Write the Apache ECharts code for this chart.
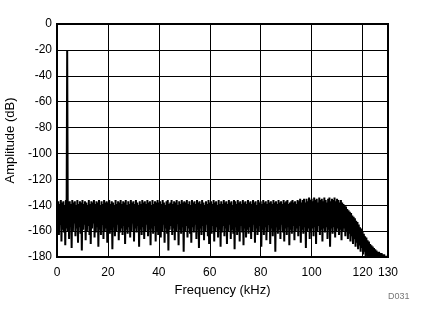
<!DOCTYPE html>
<html>
<head>
<meta charset="utf-8">
<script src="https://cdn.jsdelivr.net/npm/echarts@6/dist/echarts.min.js"></script>
<style>html,body{margin:0;padding:0;background:#fff;}#c{width:427px;height:324px;}</style>
</head>
<body>
<div id="c"></div>
<script>
// FFT bins, 0.25 kHz apart, starting at 0 kHz
var binStepKHz = 0.25;
var amplitudeDb = [
  -140,-157,-137,-163,-139,-155,-136,-168,-138,-159,-137,-161,-140,-171,-136,-158,-20,-160,-138,-166,
  -137,-156,-139,-173,-136,-160,-138,-154,-137,-164,-140,-158,-136,-169,-139,-157,-137,-162,-138,-175,
  -136,-159,-139,-155,-137,-167,-138,-160,-140,-156,-136,-163,-139,-170,-137,-158,-138,-154,-136,-165,
  -139,-161,-137,-157,-138,-172,-136,-159,-140,-163,-137,-155,-139,-166,-136,-160,-138,-158,-137,-169,
  -138,-156,-136,-162,-139,-159,-137,-174,-138,-157,-140,-164,-136,-160,-139,-155,-137,-167,-138,-161,
  -136,-158,-139,-163,-137,-156,-138,-170,-136,-159,-140,-162,-137,-157,-139,-165,-136,-160,-138,-154,
  -137,-168,-139,-158,-136,-161,-138,-156,-140,-172,-137,-159,-139,-163,-136,-157,-138,-166,-137,-160,
  -139,-155,-136,-164,-138,-159,-137,-171,-140,-158,-136,-162,-139,-156,-137,-168,-138,-160,-136,-163,
  -138,-157,-137,-165,-139,-160,-136,-155,-138,-169,-140,-158,-137,-162,-136,-175,-139,-159,-138,-156,
  -136,-163,-139,-158,-137,-167,-138,-160,-136,-154,-140,-171,-137,-159,-139,-162,-136,-157,-138,-176,
  -137,-160,-138,-156,-136,-165,-139,-158,-137,-162,-140,-169,-136,-157,-138,-161,-137,-155,-139,-166,
  -136,-159,-138,-173,-137,-158,-139,-163,-136,-156,-138,-167,-140,-160,-137,-155,-139,-164,-136,-170,
  -138,-158,-137,-162,-139,-156,-136,-168,-138,-160,-137,-157,-140,-165,-136,-159,-139,-172,-137,-161,
  -139,-156,-136,-164,-138,-158,-137,-170,-139,-160,-136,-155,-138,-166,-137,-159,-140,-162,-136,-174,
  -137,-157,-139,-163,-136,-160,-138,-168,-137,-156,-139,-161,-136,-171,-138,-158,-137,-165,-139,-159,
  -136,-162,-138,-157,-137,-166,-139,-160,-136,-155,-138,-169,-137,-158,-140,-163,-136,-160,-138,-156,
  -137,-172,-139,-159,-136,-163,-138,-157,-137,-167,-139,-160,-136,-155,-138,-170,-137,-158,-139,-164,
  -136,-160,-138,-176,-137,-157,-139,-162,-136,-159,-138,-166,-137,-155,-139,-161,-136,-168,-138,-158,
  -137,-163,-136,-157,-139,-171,-138,-159,-137,-162,-136,-156,-138,-167,-137,-160,-139,-158,-136,-164,
  -137,-156,-135,-169,-138,-159,-136,-162,-135,-157,-138,-173,-135,-160,-137,-158,-134,-166,-136,-161,
  -135,-158,-137,-164,-134,-157,-136,-170,-135,-160,-138,-156,-134,-163,-136,-159,-135,-168,-137,-158,
  -134,-161,-136,-157,-138,-166,-135,-159,-134,-172,-137,-158,-135,-162,-136,-157,-134,-165,-137,-160,
  -135,-158,-136,-163,-138,-159,-136,-167,-138,-160,-139,-158,-140,-164,-141,-160,-143,-166,-144,-162,
  -145,-168,-146,-164,-148,-170,-149,-166,-150,-172,-152,-169,-153,-174,-155,-171,-157,-176,-158,-173,
  -160,-178,-162,-176,-164,-181,-165,-179,-167,-183,-168,-182,-170,-185,-171,-183,-172,-186,-173,-184,
  -174,-186,-175,-185,-176,-187,-176,-185,-177,-186,-177,-185,-178,-187,-178,-186,-179,-186,-179,-187,
  -183
];
var xTickLabels = ['0','20','40','60','80','100','120','130'];
var yTickLabels = ['0','-20','-40','-60','-80','-100','-120','-140','-160','-180'];

var seriesData = amplitudeDb.map(function (v, i) { return [i * binStepKHz, v]; });

var chart = echarts.init(document.getElementById('c'), null, {renderer: 'canvas'});
var font = 'Liberation Sans';
chart.setOption({
  animation: false,
  backgroundColor: '#fff',
  grid: {left: 57, right: 39, top: 24, bottom: 67, show: true, borderColor: '#000', borderWidth: 2,
    backgroundColor: 'transparent', containLabel: false, outerBoundsMode: 'none'},
  xAxis: {
    type: 'value', min: 0, max: 130, interval: 10,
    name: 'Frequency (kHz)', nameLocation: 'middle', nameGap: 27,
    nameTextStyle: {fontFamily: font, fontSize: 13, color: '#000'},
    axisLine: {show: false}, axisTick: {show: false},
    axisLabel: {fontFamily: font, fontSize: 12, color: '#000', margin: 10, showMinLabel: true, showMaxLabel: true,
      formatter: function (v) { var s = String(v); return xTickLabels.indexOf(s) >= 0 ? s : ''; }},
    splitLine: {show: true, lineStyle: {color: ['#000', 'rgba(0,0,0,0)'], width: 1}}
  },
  yAxis: {
    type: 'value', min: -180, max: 0, interval: 20,
    name: 'Amplitude (dB)', nameLocation: 'middle', nameGap: 38,
    nameTextStyle: {fontFamily: font, fontSize: 13, color: '#000'},
    axisLine: {show: false}, axisTick: {show: false},
    axisLabel: {fontFamily: font, fontSize: 12, color: '#000', margin: 5,
      formatter: function (v) { var s = String(v); return yTickLabels.indexOf(s) >= 0 ? s : ''; }},
    splitLine: {show: true, lineStyle: {color: '#000', width: 1}}
  },
  graphic: [{type: 'text', left: 388, top: 292, style: {text: 'D031', fontFamily: font, fontSize: 9, fill: '#777'}}],
  series: [{
    type: 'line', data: seriesData, symbol: 'none', clip: true, sampling: null,
    lineStyle: {color: '#000', width: 2, join: 'bevel'}, z: 5
  }]
});
</script>
</body>
</html>
